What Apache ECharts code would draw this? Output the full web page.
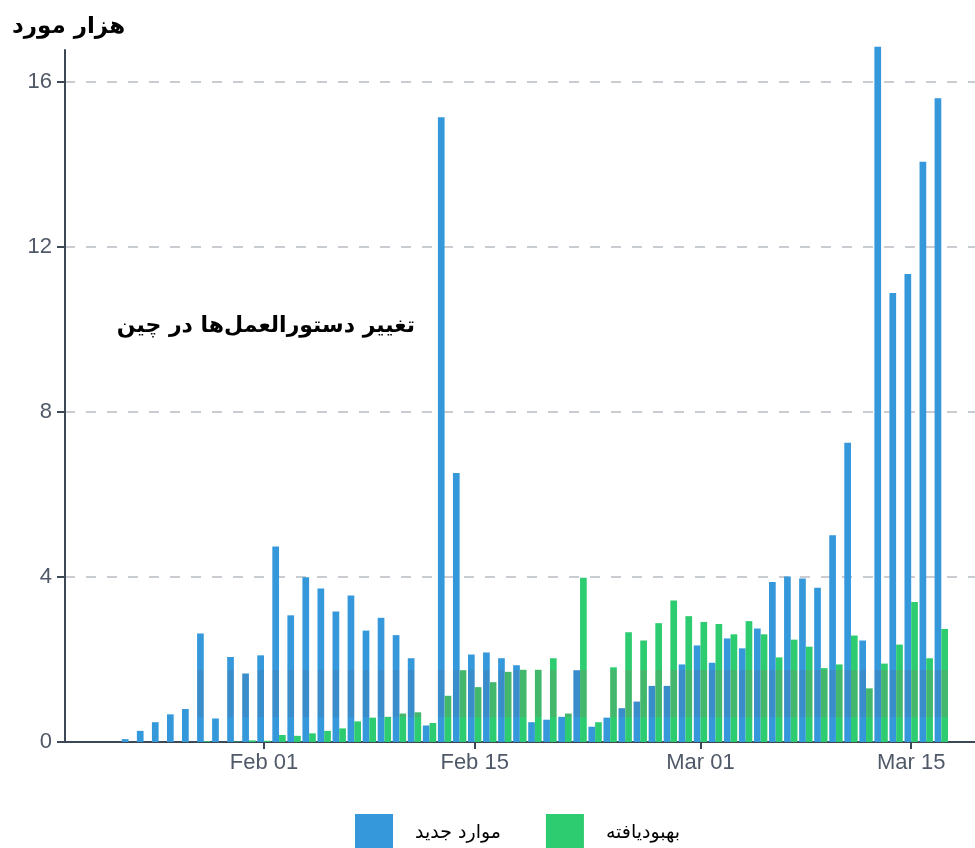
<!DOCTYPE html>
<html>
<head>
<meta charset="utf-8">
<script src="https://cdn.jsdelivr.net/npm/echarts@6/dist/echarts.min.js"></script>
<style>
  html, body { margin: 0; padding: 0; background: #fff; }
  #chart { width: 975px; height: 848px; }
</style>
</head>
<body>
<div id="chart"></div>
<script>
const dates = [
  'Jan 23', 'Jan 24', 'Jan 25', 'Jan 26', 'Jan 27', 'Jan 28', 'Jan 29', 'Jan 30', 'Jan 31',
  'Feb 01', 'Feb 02', 'Feb 03', 'Feb 04', 'Feb 05', 'Feb 06', 'Feb 07', 'Feb 08', 'Feb 09', 'Feb 10',
  'Feb 11', 'Feb 12', 'Feb 13', 'Feb 14', 'Feb 15', 'Feb 16', 'Feb 17', 'Feb 18', 'Feb 19', 'Feb 20',
  'Feb 21', 'Feb 22', 'Feb 23', 'Feb 24', 'Feb 25', 'Feb 26', 'Feb 27', 'Feb 28', 'Feb 29',
  'Mar 01', 'Mar 02', 'Mar 03', 'Mar 04', 'Mar 05', 'Mar 06', 'Mar 07', 'Mar 08', 'Mar 09', 'Mar 10',
  'Mar 11', 'Mar 12', 'Mar 13', 'Mar 14', 'Mar 15', 'Mar 16', 'Mar 17',
];

// thousands of cases
const newCases = [
  0.07, 0.27, 0.48, 0.67, 0.80, 2.63, 0.57, 2.06, 1.66,
  2.10, 4.74, 3.07, 3.99, 3.72, 3.16, 3.55, 2.70, 3.01, 2.59,
  2.03, 0.40, 15.14, 6.52, 2.12, 2.17, 2.03, 1.86, 0.48, 0.54,
  0.61, 1.74, 0.37, 0.59, 0.82, 0.98, 1.36, 1.36, 1.88,
  2.34, 1.92, 2.51, 2.27, 2.75, 3.88, 4.01, 3.96, 3.74, 5.01,
  7.25, 2.46, 16.85, 10.88, 11.34, 14.06, 15.60,
];

const recovered = [
  0, 0, 0, 0, 0, 0.02, 0, 0.01, 0.04,
  0.03, 0.17, 0.15, 0.21, 0.27, 0.33, 0.50, 0.59, 0.61, 0.69,
  0.72, 0.46, 1.12, 1.74, 1.33, 1.45, 1.70, 1.75, 1.75, 2.03,
  0.69, 3.98, 0.48, 1.81, 2.66, 2.46, 2.88, 3.43, 3.05,
  2.91, 2.86, 2.61, 2.93, 2.61, 2.05, 2.48, 2.31, 1.79, 1.88,
  2.58, 1.30, 1.90, 2.36, 3.39, 2.03, 2.74,
];

const tickLabels = ['Feb 01', 'Feb 15', 'Mar 01', 'Mar 15'];
const yTicks = [0, 4, 8, 12, 16];

const BLUE = '#3498db';
const GREEN = '#2ecc71';
const AXIS = '#3d4857';
const FA = "'DejaVu Sans', sans-serif";

const chart = echarts.init(document.getElementById('chart'));
const tickIdx = tickLabels.map(l => dates.indexOf(l));

// the source picture has a darker strip across the lower part of most bars
function bandColor(base, dark) {
  return new echarts.graphic.LinearGradient(0, 0, 0, 848, [
    { offset: 0, color: base },
    { offset: 670 / 848, color: base },
    { offset: 670 / 848, color: dark },
    { offset: 717 / 848, color: dark },
    { offset: 717 / 848, color: base },
    { offset: 1, color: base },
  ], true);
}

function toItems(values, base) {
  return values.map((v, i) => ({
    value: [i, v],
    itemStyle: i < 5 ? { color: base } : undefined,
  }));
}

const option = {
  animation: false,
  title: {
    text: 'هزار مورد',
    left: 7,
    top: 11,
    textStyle: { fontFamily: FA, fontSize: 23, fontWeight: 'bold', color: '#000' },
  },
  graphic: [{
    type: 'text',
    x: 415,
    y: 326,
    style: {
      text: 'تغییر دستورالعمل‌ها در چین',
      font: "bold 22px 'DejaVu Sans', sans-serif",
      fill: '#000',
      textAlign: 'right',
      textVerticalAlign: 'middle',
    },
  }],
  legend: {
    left: 350,
    top: 809,
    itemWidth: 38,
    itemHeight: 38,
    itemGap: 45,
    icon: 'rect',
    textStyle: { fontFamily: FA, fontSize: 19, color: '#000', padding: [0, 0, 6, 17] },
    data: [
      { name: 'موارد جدید', itemStyle: { color: BLUE } },
      { name: 'بهبودیافته', itemStyle: { color: GREEN } },
    ],
  },
  grid: { left: 65, right: 0, top: 50, bottom: 106 },
  xAxis: {
    type: 'value',
    min: tickIdx[0] - 13.22,
    max: tickIdx[0] + 47.24,
    splitLine: { show: false },
    axisLine: { onZero: false, lineStyle: { color: AXIS, width: 2 } },
    axisTick: { customValues: tickIdx, length: 7, lineStyle: { color: AXIS, width: 2 } },
    axisLabel: {
      customValues: tickIdx,
      formatter: v => dates[Math.round(v)],
      fontFamily: 'Liberation Sans, Arial, sans-serif',
      fontSize: 22,
      color: '#505968',
      margin: 10,
    },
  },
  yAxis: {
    type: 'value',
    min: 0,
    max: 16.77,
    axisLine: { show: true, onZero: false, lineStyle: { color: AXIS, width: 2 } },
    axisTick: { show: true, customValues: yTicks, length: 8, lineStyle: { color: AXIS, width: 2 } },
    axisLabel: {
      customValues: yTicks,
      fontFamily: 'Liberation Sans, Arial, sans-serif',
      fontSize: 22,
      color: '#505968',
      margin: 13,
    },
    splitLine: { lineStyle: { color: '#c9cdd2', width: 2, type: [10, 11] } },
  },
  series: [
    {
      name: 'موارد جدید',
      type: 'bar',
      barWidth: 6.7,
      barGap: 0,
      clip: false,
      itemStyle: { color: bandColor(BLUE, '#3a8dcb') },
      data: toItems(newCases, BLUE),
    },
    {
      name: 'بهبودیافته',
      type: 'bar',
      barWidth: 6.7,
      barGap: 0,
      clip: false,
      itemStyle: { color: bandColor(GREEN, '#43b86d') },
      data: toItems(recovered, GREEN),
    },
  ],
};

chart.setOption(option);
</script>
</body>
</html>
